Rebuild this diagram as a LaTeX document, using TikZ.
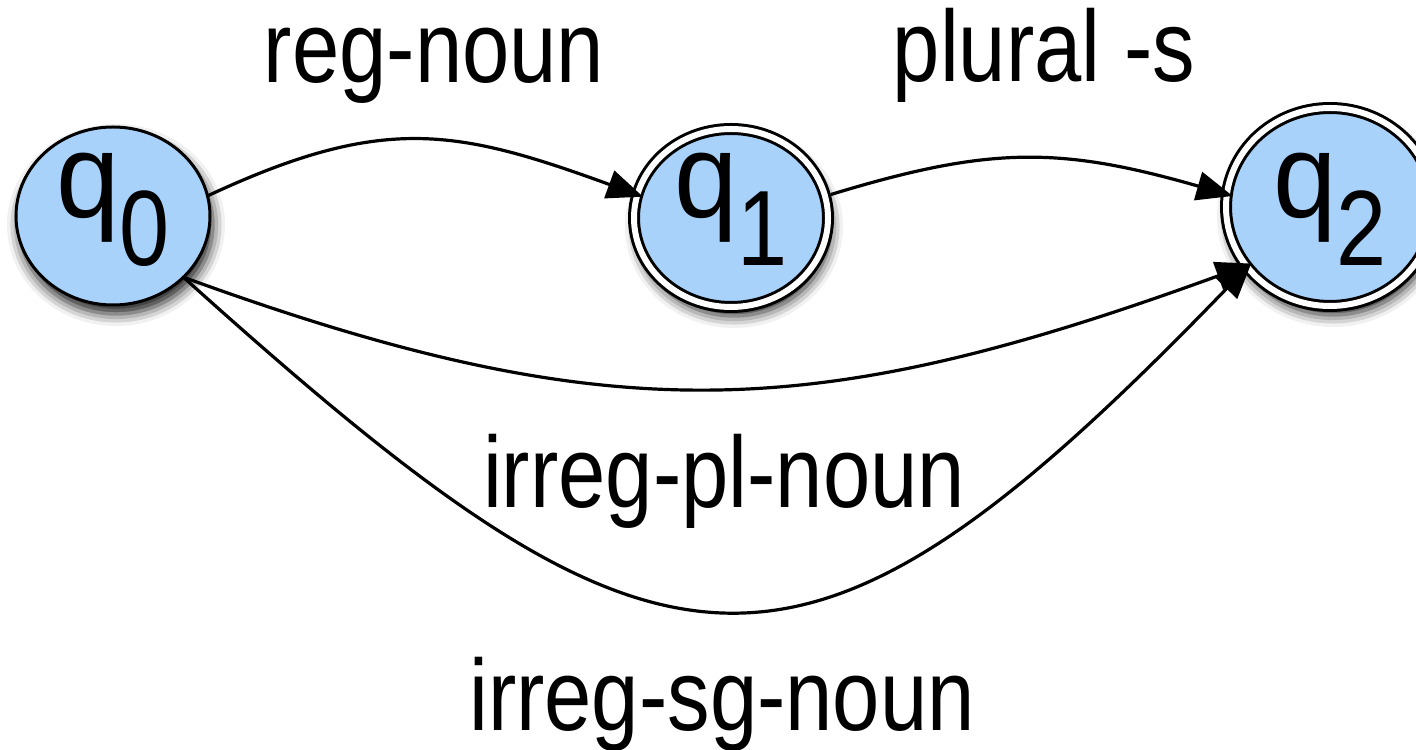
\documentclass[tikz,border=0pt]{standalone}
\usepackage{fontspec}
\setmainfont{Liberation Sans}
\usetikzlibrary{arrows.meta,shapes.geometric,shadows.blur}
\definecolor{stfill}{RGB}{168,210,250}
\newcommand\qsub[2]{\raisebox{#2}[0pt][0pt]{\scalebox{1}[1.05]{\fontsize{57}{57}\selectfont q}\raisebox{-24pt}{\scalebox{1}[1.19]{\fontsize{45}{45}\selectfont #1}}}}
\newcommand\lbltext[1]{\scalebox{1}[1.19]{#1}}
\begin{document}
\begin{tikzpicture}[x=0.5pt,y=0.5pt,
  state/.style={ellipse, draw=black, line width=1.5pt, fill=stfill, inner sep=0pt, outer sep=0pt,
    blur shadow={shadow xshift=1.5pt, shadow yshift=-4.5pt, shadow blur radius=6pt, shadow opacity=90}},
  accept/.style={state, double=white, double distance=3pt},
  edge/.style={line width=1.6pt, -{Triangle[length=18pt,width=14.5pt]}},
  lbl/.style={font=\fontsize{42.5}{42.5}\selectfont, inner sep=0pt, anchor=base}]
\useasboundingbox (0,0) rectangle (1416,749);
\node[state, minimum width=97pt, minimum height=89pt] (q0) at (113,533) {\qsub{0}{-1pt}};
\node[accept, minimum width=97pt, minimum height=89pt] (q1) at (731,531) {\qsub{1}{0pt}};
\node[accept, minimum width=104pt, minimum height=99pt] (q2) at (1330,542) {\qsub{2}{-5.5pt}};
\draw[edge, shorten >=-3pt] (q0.12) to[out=25,in=160,looseness=1.15] (q1.166);
\draw[edge, shorten <=3pt, shorten >=-3pt] (q1.13) to[out=17,in=164,looseness=1.1] (q2.173);
\draw[edge, shorten >=-3pt] (q0.319) to[out=-20,in=200,looseness=1.1] (q2.215);
\draw[edge, shorten >=-3pt] (q0.319) to[out=-42,in=226,looseness=1.56] (q2.216);
\node[lbl] (lreg) at (434,666) {\lbltext{reg-noun}};
\node[lbl] (lplu) at (1044,667) {\lbltext{plural -s}};
\node[lbl] (lpl) at (724,242) {\lbltext{irreg-pl-noun}};
\node[lbl] (lsg) at (722,19) {\lbltext{irreg-sg-noun}};
\end{tikzpicture}
\end{document}
